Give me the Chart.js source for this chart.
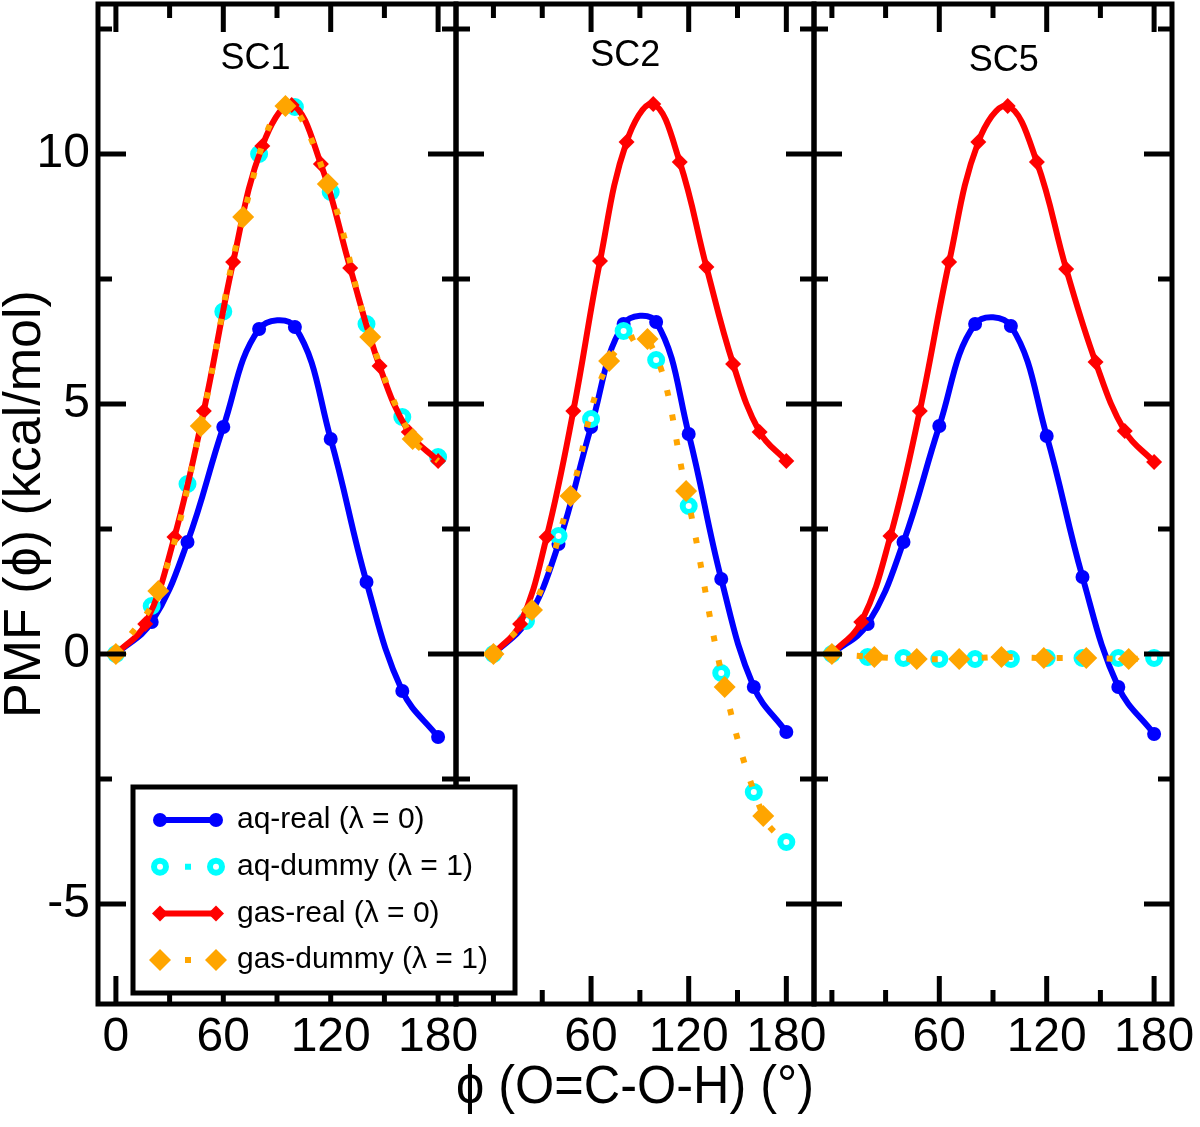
<!DOCTYPE html>
<html>
<head>
<meta charset="utf-8">
<script src="https://cdn.jsdelivr.net/npm/chart.js@4.4.1/dist/chart.umd.min.js"></script>
<style>
  html, body { margin: 0; padding: 0; background: #fff; }
  #wrap { width: 1200px; height: 1127px; }
</style>
</head>
<body>
<div id="wrap"><canvas id="pmf" width="1200" height="1127"></canvas></div>
<script>
// torsion angles (deg) for each kind of scan
const phiAq = [0, 20, 40, 60, 80, 100, 120, 140, 160, 180];
const phiGas = [0, 16.4, 32.7, 49.1, 65.5, 81.8, 98.2, 114.5, 130.9, 147.3, 163.6, 180];
const phiGasDummy = [0, 23.7, 47.4, 71.1, 94.7, 118.4, 142.1, 165.8, 180];

const panelNames = ['SC1', 'SC2', 'SC5'];
const seriesLabels = ['aq-real (λ = 0)', 'aq-dummy (λ = 1)', 'gas-real (λ = 0)', 'gas-dummy (λ = 1)'];

// PMF values (kcal/mol)
const sc1AqReal = [0, 0.64, 2.24, 4.54, 6.5, 6.54, 4.3, 1.44, -0.74, -1.66];
const sc1AqDummy = [0, 0.96, 3.4, 6.85, 10.0, 10.94, 9.24, 6.6, 4.74, 3.94];
const sc1GasReal = [0, 0.6, 2.34, 4.86, 7.84, 10.16, 10.98, 9.8, 7.72, 5.76, 4.44, 3.86];
const sc1GasDummy = [0, 1.26, 4.56, 8.74, 10.96, 9.4, 6.34, 4.3, 3.86];

const sc2AqReal = [0, 0.64, 2.2, 4.54, 6.6, 6.64, 4.4, 1.5, -0.66, -1.56];
const sc2AqDummy = [0, 0.66, 2.36, 4.7, 6.46, 5.88, 2.96, -0.38, -2.76, -3.76];
const sc2GasReal = [0, 0.6, 2.34, 4.86, 7.86, 10.24, 11.0, 9.84, 7.74, 5.8, 4.44, 3.86];
const sc2GasDummy = [0, 0.88, 3.16, 5.86, 6.3, 3.26, -0.66, -3.24, -3.8];

const sc5AqReal = [0, 0.6, 2.24, 4.56, 6.6, 6.56, 4.36, 1.54, -0.66, -1.6];
const sc5AqDummy = [0, -0.06, -0.08, -0.1, -0.1, -0.1, -0.08, -0.08, -0.08, -0.08];
const sc5GasReal = [0, 0.64, 2.36, 4.86, 7.84, 10.24, 10.96, 9.84, 7.7, 5.84, 4.46, 3.84];
const sc5GasDummy = [0, -0.06, -0.1, -0.1, -0.06, -0.08, -0.08, -0.1, -0.08];

// axes
const xRanges = [[-10, 190], [-23, 197], [-10, 190]];
const xTickLabels = [[0, 60, 120, 180], [60, 120, 180], [60, 120, 180]];
const xMinorTicks = [[30, 90, 150], [0, 30, 90, 150], [0, 30, 90, 150]];
const yTickLabels = [-5, 0, 5, 10];
const yMinorTicks = [-2.5, 2.5, 7.5, 12.5];

const FONT = "'Liberation Sans', 'DejaVu Sans', sans-serif";

const panelData = [
    [sc1AqReal, sc1AqDummy, sc1GasReal, sc1GasDummy],
    [sc2AqReal, sc2AqDummy, sc2GasReal, sc2GasDummy],
    [sc5AqReal, sc5AqDummy, sc5GasReal, sc5GasDummy]
];
const seriesX = [phiAq, phiAq, phiGas, phiGasDummy];

const seriesStyle = [
    { borderColor: '#0000ff', backgroundColor: '#0000ff', borderWidth: 6, pointStyle: 'circle', pointRadius: 7, pointBorderWidth: 0, order: 4 },
    { borderColor: '#00ffff', backgroundColor: '#ffffff', borderWidth: 6, borderDash: [6, 19], pointStyle: 'circle', pointRadius: 6, pointBorderWidth: 6, showLine: false, order: 3 },
    { borderColor: '#ff0000', backgroundColor: '#ff0000', borderWidth: 6, pointStyle: 'rectRot', pointRadius: 8, pointBorderWidth: 0, order: 2 },
    { borderColor: '#ffa500', backgroundColor: '#ffa500', borderWidth: 6, borderDash: [6, 19], pointStyle: 'rectRot', pointRadius: 11, pointBorderWidth: 0, order: 1 }
];

let datasets = [];
panelData.forEach((series, p) => {
    series.forEach((vals, k) => {
        const xs = seriesX[k];
        const st = seriesStyle[k];
        let radius = st.pointRadius;
        if (k === 3) {
            // last gas-dummy value has no symbol
            radius = xs.map((e, j) => j === xs.length - 1 ? 0 : st.pointRadius);
        }
        datasets.push(Object.assign({}, st, {
            label: seriesLabels[k],
            xAxisID: 'x' + (p + 1),
            yAxisID: 'y',
            data: xs.map((x, j) => ({ x: x, y: vals[j] })),
            pointRadius: radius,
            pointHoverRadius: radius,
            pointBackgroundColor: st.backgroundColor,
            pointBorderColor: st.borderColor,
            tension: 0.4,
            fill: false,
            clip: 10
        }));
    });
});

function drawMarker(ctx, st, x, y) {
    const r = st.pointRadius;
    ctx.beginPath();
    if (st.pointStyle === 'circle') {
        ctx.arc(x, y, r, 0, Math.PI * 2);
    } else {
        ctx.moveTo(x, y - r);
        ctx.lineTo(x + r, y);
        ctx.lineTo(x, y + r);
        ctx.lineTo(x - r, y);
        ctx.closePath();
    }
    ctx.fillStyle = st.backgroundColor;
    ctx.fill();
    if (st.pointBorderWidth) {
        ctx.lineWidth = st.pointBorderWidth;
        ctx.strokeStyle = st.borderColor;
        ctx.stroke();
    }
}

// boxes, inward ticks and panel names
const panelFrames = {
    id: 'panelFrames',
    afterDatasetsDraw(chart, args, opts) {
        const { ctx, chartArea } = chart;
        const yScale = chart.scales.y;
        const top = chartArea.top, bottom = chartArea.bottom;
        const seg = (x1, y1, x2, y2) => {
            ctx.beginPath(); ctx.moveTo(x1, y1); ctx.lineTo(x2, y2); ctx.stroke();
        };
        ctx.save();
        ctx.strokeStyle = '#000';
        ctx.lineWidth = opts.lineWidth;
        panelNames.forEach((name, i) => {
            const s = chart.scales['x' + (i + 1)];
            ctx.strokeRect(s.left, top, s.right - s.left, bottom - top);
            xTickLabels[i].forEach(v => {
                const px = s.getPixelForValue(v);
                seg(px, top, px, top + opts.major);
                seg(px, bottom, px, bottom - opts.major);
            });
            xMinorTicks[i].forEach(v => {
                const px = s.getPixelForValue(v);
                seg(px, top, px, top + opts.minor);
                seg(px, bottom, px, bottom - opts.minor);
            });
            yTickLabels.forEach(v => {
                const py = yScale.getPixelForValue(v);
                seg(s.left, py, s.left + opts.major, py);
                seg(s.right, py, s.right - opts.major, py);
            });
            yMinorTicks.forEach(v => {
                const py = yScale.getPixelForValue(v);
                seg(s.left, py, s.left + opts.minor, py);
                seg(s.right, py, s.right - opts.minor, py);
            });
            ctx.fillStyle = '#000';
            ctx.font = opts.titleSize + 'px ' + FONT;
            ctx.textAlign = 'center';
            ctx.textBaseline = 'middle';
            const at = opts.titleAt[i];
            ctx.fillText(name, s.getPixelForValue(at[0]), yScale.getPixelForValue(at[1]));
        });
        ctx.restore();
    }
};

const boxLegend = {
    id: 'boxLegend',
    afterDraw(chart, args, opts) {
        const { ctx } = chart;
        const [x0, y0, w, h] = opts.box;
        ctx.save();
        ctx.fillStyle = '#fff';
        ctx.fillRect(x0, y0, w, h);
        ctx.lineWidth = 5;
        ctx.strokeStyle = '#000';
        ctx.strokeRect(x0, y0, w, h);
        seriesLabels.forEach((label, k) => {
            const st = seriesStyle[k];
            const yy = y0 + opts.firstRow + k * opts.rowGap;
            const xa = x0 + opts.sampleStart, xb = x0 + opts.sampleEnd;
            ctx.strokeStyle = st.borderColor;
            ctx.lineWidth = st.borderWidth;
            ctx.setLineDash(st.borderDash || []);
            ctx.beginPath(); ctx.moveTo(xa, yy); ctx.lineTo(xb, yy); ctx.stroke();
            ctx.setLineDash([]);
            drawMarker(ctx, st, xa, yy);
            drawMarker(ctx, st, xb, yy);
            ctx.fillStyle = '#000';
            ctx.font = opts.fontSize + 'px ' + FONT;
            ctx.textAlign = 'left';
            ctx.textBaseline = 'middle';
            ctx.fillText(label, x0 + opts.textStart, yy);
        });
        ctx.restore();
    }
};

function xScale(i) {
    return {
        type: 'linear',
        axis: 'x',
        position: 'bottom',
        stack: 'phi',
        stackWeight: 1,
        min: xRanges[i][0],
        max: xRanges[i][1],
        afterBuildTicks: s => { s.ticks = xTickLabels[i].map(v => ({ value: v })); },
        afterFit: s => { s.height = 123; s.paddingLeft = 0; s.paddingRight = 0; },
        grid: { display: false, drawTicks: false },
        border: { display: false },
        ticks: {
            autoSkip: false, maxRotation: 0, padding: 5, color: '#000',
            font: { family: FONT, size: 48 },
            callback: v => String(v)
        },
        title: {
            display: i === 1,
            text: 'ϕ (O=C-O-H) (°)',
            color: '#000',
            font: { family: FONT, size: 54, lineHeight: 1 },
            padding: { top: 0, bottom: 12 }
        }
    };
}

const chart = new Chart(document.getElementById('pmf'), {
    type: 'line',
    data: { datasets: datasets },
    options: {
        responsive: false,
        animation: false,
        devicePixelRatio: 1,
        layout: { autoPadding: false, padding: { left: 0, right: 28, top: 4, bottom: 0 } },
        scales: {
            x1: xScale(0),
            x2: xScale(1),
            x3: xScale(2),
            y: {
                type: 'linear',
                position: 'left',
                min: -7,
                max: 13,
                afterBuildTicks: s => { s.ticks = yTickLabels.map(v => ({ value: v })); },
                afterFit: s => { s.width = 98; s.paddingTop = 0; s.paddingBottom = 0; },
                grid: { display: false, drawTicks: false },
                border: { display: false },
                ticks: {
                    padding: 8, color: '#000',
                    font: { family: FONT, size: 48 },
                    callback: v => String(v)
                },
                title: {
                    display: true,
                    text: 'PMF (ϕ) (kcal/mol)',
                    color: '#000',
                    font: { family: FONT, size: 52, lineHeight: 1 },
                    padding: { top: 0, bottom: 0 }
                }
            }
        },
        plugins: {
            legend: { display: false },
            tooltip: { enabled: false },
            panelFrames: {
                lineWidth: 5, major: 28, minor: 14, titleSize: 36,
                titleAt: [[78, 11.9], [81, 11.95], [96, 11.85]]
            },
            boxLegend: {
                box: [133, 787, 382, 206],
                firstRow: 33, rowGap: 46.7,
                sampleStart: 27, sampleEnd: 83, textStart: 104, fontSize: 30
            }
        }
    },
    plugins: [panelFrames, boxLegend]
});
</script>
</body>
</html>
